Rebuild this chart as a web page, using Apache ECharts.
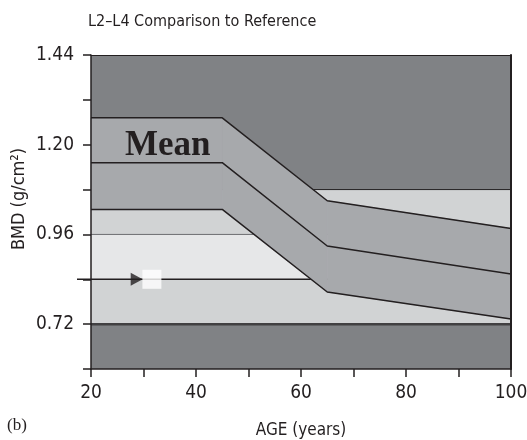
<!DOCTYPE html>
<html>
<head>
<meta charset="utf-8">
<script src="https://cdn.jsdelivr.net/npm/echarts@6/dist/echarts.min.js"></script>
<style>
  html, body { margin: 0; padding: 0; background: #fff; }
  #chart { width: 527px; height: 440px; }
</style>
</head>
<body>
<div id="chart"></div>
<script>
// reference curve
var ages     = [20, 45, 65, 100];
var upperSD  = [1.272, 1.272, 1.050, 0.976];
var meanBMD  = [1.152, 1.152, 0.929, 0.854];
var lowerSD  = [1.027, 1.027, 0.806, 0.734];

// patient point
var patientAge = 31.6;
var patientBMD = 0.84;
var arrowAge   = 28.7;

// background bands (value edges) and their colours
var bandEdges  = [0.60, 0.72, 0.84, 0.96, 1.08, 1.44];
var bandColors = ['#808285', '#d1d3d4', '#e6e7e8', '#d1d3d4', '#808285'];

// horizontal rules across the plot
var ruleValues = [1.08, 0.96, 0.84, 0.72];
var ruleStyles = [
	{ stroke: '#231f20', lineWidth: 1 },
	{ stroke: '#6d6e71', lineWidth: 1 },
	{ stroke: '#231f20', lineWidth: 1.5 },
	{ stroke: '#414042', lineWidth: 2.5 }
];
var ruleOverhang = [0, 0, 14, 0];   // px the rule sticks out left of the axis

var yLabels = [0.72, 0.96, 1.20, 1.44];
var xLabels = [20, 40, 60, 80, 100];
var xMin = 20, xMax = 100;

var fontSans  = '"Liberation Sans Narrow", "DejaVu Sans Condensed", sans-serif';
var fontSerif = '"Liberation Serif", "Times New Roman", serif';

function pairs(xs, ys) {
	var out = [];
	for (var i = 0; i < xs.length; i++) {
		out.push([xs[i], ys[i]]);
	}
	return out;
}

function segments() {
	var out = [];
	for (var i = 0; i < ages.length - 1; i++) {
		out.push([ages[i], ages[i + 1], lowerSD[i], upperSD[i], lowerSD[i + 1], upperSD[i + 1]]);
	}
	return out;
}

function hasLabel(list, v) {
	for (var i = 0; i < list.length; i++) {
		if (Math.abs(list[i] - v) < 1e-6) return true;
	}
	return false;
}

var bandData = [];
for (var i = 0; i < bandColors.length; i++) {
	bandData.push([bandEdges[i], bandEdges[i + 1], i]);
}
var ruleData = [];
for (var j = 0; j < ruleValues.length; j++) {
	ruleData.push([ruleValues[j], j]);
}

function renderBand(params, api) {
	var topLeft = api.coord([xMin, api.value(1)]);
	var botRight = api.coord([xMax, api.value(0)]);
	return {
		type: 'rect',
		shape: { x: topLeft[0], y: topLeft[1], width: botRight[0] - topLeft[0], height: botRight[1] - topLeft[1] },
		style: { fill: bandColors[api.value(2)] }
	};
}

function renderRule(params, api) {
	var k = api.value(1);
	var a = api.coord([xMin, api.value(0)]);
	var b = api.coord([xMax, api.value(0)]);
	return {
		type: 'line',
		shape: { x1: a[0] - ruleOverhang[k], y1: a[1], x2: b[0], y2: b[1] },
		style: ruleStyles[k]
	};
}

function renderSpread(params, api) {
	var p1 = api.coord([api.value(0), api.value(3)]);
	var p2 = api.coord([api.value(1), api.value(5)]);
	var p3 = api.coord([api.value(1), api.value(4)]);
	var p4 = api.coord([api.value(0), api.value(2)]);
	return {
		type: 'polygon',
		shape: { points: [p1, p2, p3, p4] },
		style: { fill: '#a7a9ac', stroke: '#a7a9ac', lineWidth: 0.8 }
	};
}

var myChart = echarts.init(document.getElementById('chart'));

var lineStyle = { color: '#231f20', width: 1.5 };

var option = {
	animation: false,
	backgroundColor: '#ffffff',
	grid: { left: 91, right: 16, top: 55, bottom: 71, outerBoundsMode: 'none', containLabel: false },
	graphic: [
		{
			type: 'text', left: 88, top: 14,
			style: { text: 'L2\u2013L4 Comparison to Reference', font: '16px ' + fontSans, fill: '#231f20' }
		},
		{
			type: 'text', left: 7, top: 417,
			style: { text: '(b)', font: '17px ' + fontSerif, fill: '#231f20' }
		},
		{
			type: 'text', x: 19, y: 199, rotation: Math.PI / 2,
			style: { text: 'BMD (g/cm\u00b2)', font: '18px ' + fontSans, fill: '#231f20', align: 'center', verticalAlign: 'middle' }
		},
		{
			type: 'text', left: 125, top: 128, z: 100,
			style: { text: 'Mean', font: 'bold 35px ' + fontSerif, fill: '#231f20' }
		}
	],
	xAxis: [
		{
			type: 'value', min: xMin, max: xMax, interval: 10,
			z: 50,
			name: 'AGE (years)', nameLocation: 'middle', nameGap: 53,
			nameTextStyle: { fontFamily: fontSans, fontSize: 17, color: '#231f20' },
			axisLine: { lineStyle: { color: '#231f20', width: 1.5 } },
			axisTick: { length: 8, lineStyle: { color: '#231f20', width: 1.5 } },
			axisLabel: {
				margin: 15, fontFamily: fontSans, fontSize: 19, color: '#231f20',
				formatter: function (v) { return hasLabel(xLabels, v) ? String(v) : ''; }
			},
			splitLine: { show: false }
		},
		{
			type: 'value', min: xMin, max: xMax, position: 'top', z: 50,
			axisLine: { show: true, lineStyle: { color: '#231f20', width: 1 } },
			axisTick: { show: false }, axisLabel: { show: false }, splitLine: { show: false }
		}
	],
	yAxis: [
		{
			type: 'value', min: 0.6, max: 1.44, interval: 0.12,
			z: 50,
			axisLine: { show: true, lineStyle: { color: '#231f20', width: 1.5 } },
			axisTick: { length: 8, lineStyle: { color: '#231f20', width: 1.5 } },
			axisLabel: {
				margin: 17, fontFamily: fontSans, fontSize: 19, color: '#231f20',
				formatter: function (v) { return hasLabel(yLabels, v) ? v.toFixed(2) : ''; }
			},
			splitLine: { show: false }
		},
		{
			type: 'value', min: 0.6, max: 1.44, position: 'right', z: 50,
			axisLine: { show: true, lineStyle: { color: '#231f20', width: 2 } },
			axisTick: { show: false }, axisLabel: { show: false }, splitLine: { show: false }
		}
	],
	series: [
		{
			name: 'bands', type: 'custom', z: 1, silent: true,
			data: bandData, encode: { y: [0, 1] },
			renderItem: renderBand
		},
		{
			name: 'rules', type: 'custom', z: 2, silent: true, clip: false,
			data: ruleData, encode: { y: 0 },
			renderItem: renderRule
		},
		{
			name: 'spread', type: 'custom', z: 3, silent: true,
			data: segments(), encode: { x: [0, 1], y: [2, 3, 4, 5] },
			renderItem: renderSpread
		},
		{ name: 'upper', type: 'line', z: 4, data: pairs(ages, upperSD), showSymbol: false, lineStyle: lineStyle },
		{ name: 'mean',  type: 'line', z: 4, data: pairs(ages, meanBMD), showSymbol: false, lineStyle: lineStyle },
		{ name: 'lower', type: 'line', z: 4, data: pairs(ages, lowerSD), showSymbol: false, lineStyle: lineStyle },
		{
			name: 'arrow', type: 'scatter', z: 5,
			data: [[arrowAge, patientBMD]],
			symbol: 'triangle', symbolRotate: -90, symbolSize: [13, 12],
			itemStyle: { color: '#231f20' }
		},
		{
			name: 'patient', type: 'scatter', z: 5,
			data: [[patientAge, patientBMD]],
			symbol: 'rect', symbolSize: 19,
			itemStyle: { color: '#ffffff' }
		}
	]
};

myChart.setOption(option);
</script>
</body>
</html>
